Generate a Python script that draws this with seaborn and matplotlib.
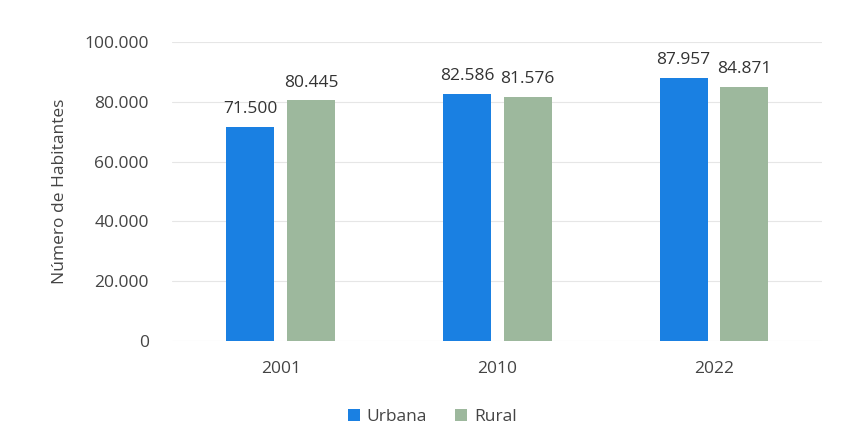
import matplotlib
matplotlib.use("Agg")
import matplotlib.pyplot as plt
import seaborn as sns
import pandas as pd
from matplotlib.ticker import FuncFormatter

years = ["2001", "2010", "2022"]
urbana = [71500, 82586, 87957]
rural = [80445, 81576, 84871]
series = ["Urbana", "Rural"]
colors = ["#1a80e2", "#9db89d"]

df = pd.DataFrame({
    "Año": years * 2,
    "Zona": ["Urbana"] * 3 + ["Rural"] * 3,
    "Habitantes": urbana + rural,
})

sns.set_theme(style="white")
plt.rcParams["font.family"] = ["Open Sans", "DejaVu Sans"]

fig = plt.figure(figsize=(8.45, 4.46), dpi=100)
ax = fig.add_axes([0.204, 0.235, 0.769, 0.671])

sns.barplot(data=df, x="Año", y="Habitantes", hue="Zona", hue_order=series,
            palette=colors, width=0.56, gap=0.21, ax=ax, legend=True,
            saturation=1, linewidth=0)

fmt = lambda v: f"{int(v):,}".replace(",", ".")
for cont in ax.containers:
    ax.bar_label(cont, labels=[fmt(b.get_height()) for b in cont],
                 padding=7, fontsize=12.5, color="#333333")

ax.set_ylim(0, 100000)
ax.set_yticks(range(0, 100001, 20000))
ax.yaxis.set_major_formatter(FuncFormatter(lambda v, p: fmt(v)))
ax.grid(axis="y", color="#e6e6e6", linewidth=0.8)
ax.set_axisbelow(True)
for s in ax.spines.values():
    s.set_visible(False)
ax.tick_params(axis="both", length=0, labelsize=12.5, colors="#444444")
ax.tick_params(axis="y", pad=17)
ax.tick_params(axis="x", pad=14)
ax.set_xlabel("")
ax.set_ylabel("Número de Habitantes", fontsize=12.5, color="#444444", labelpad=12)

leg = ax.legend(loc="center", bbox_to_anchor=(0.40, -0.254), ncol=2,
                frameon=False, fontsize=12.5, handlelength=0.7, handleheight=0.7,
                handletextpad=0.4, columnspacing=1.6)
for t in leg.get_texts():
    t.set_color("#444444")

fig.savefig("out.png", dpi=100)
